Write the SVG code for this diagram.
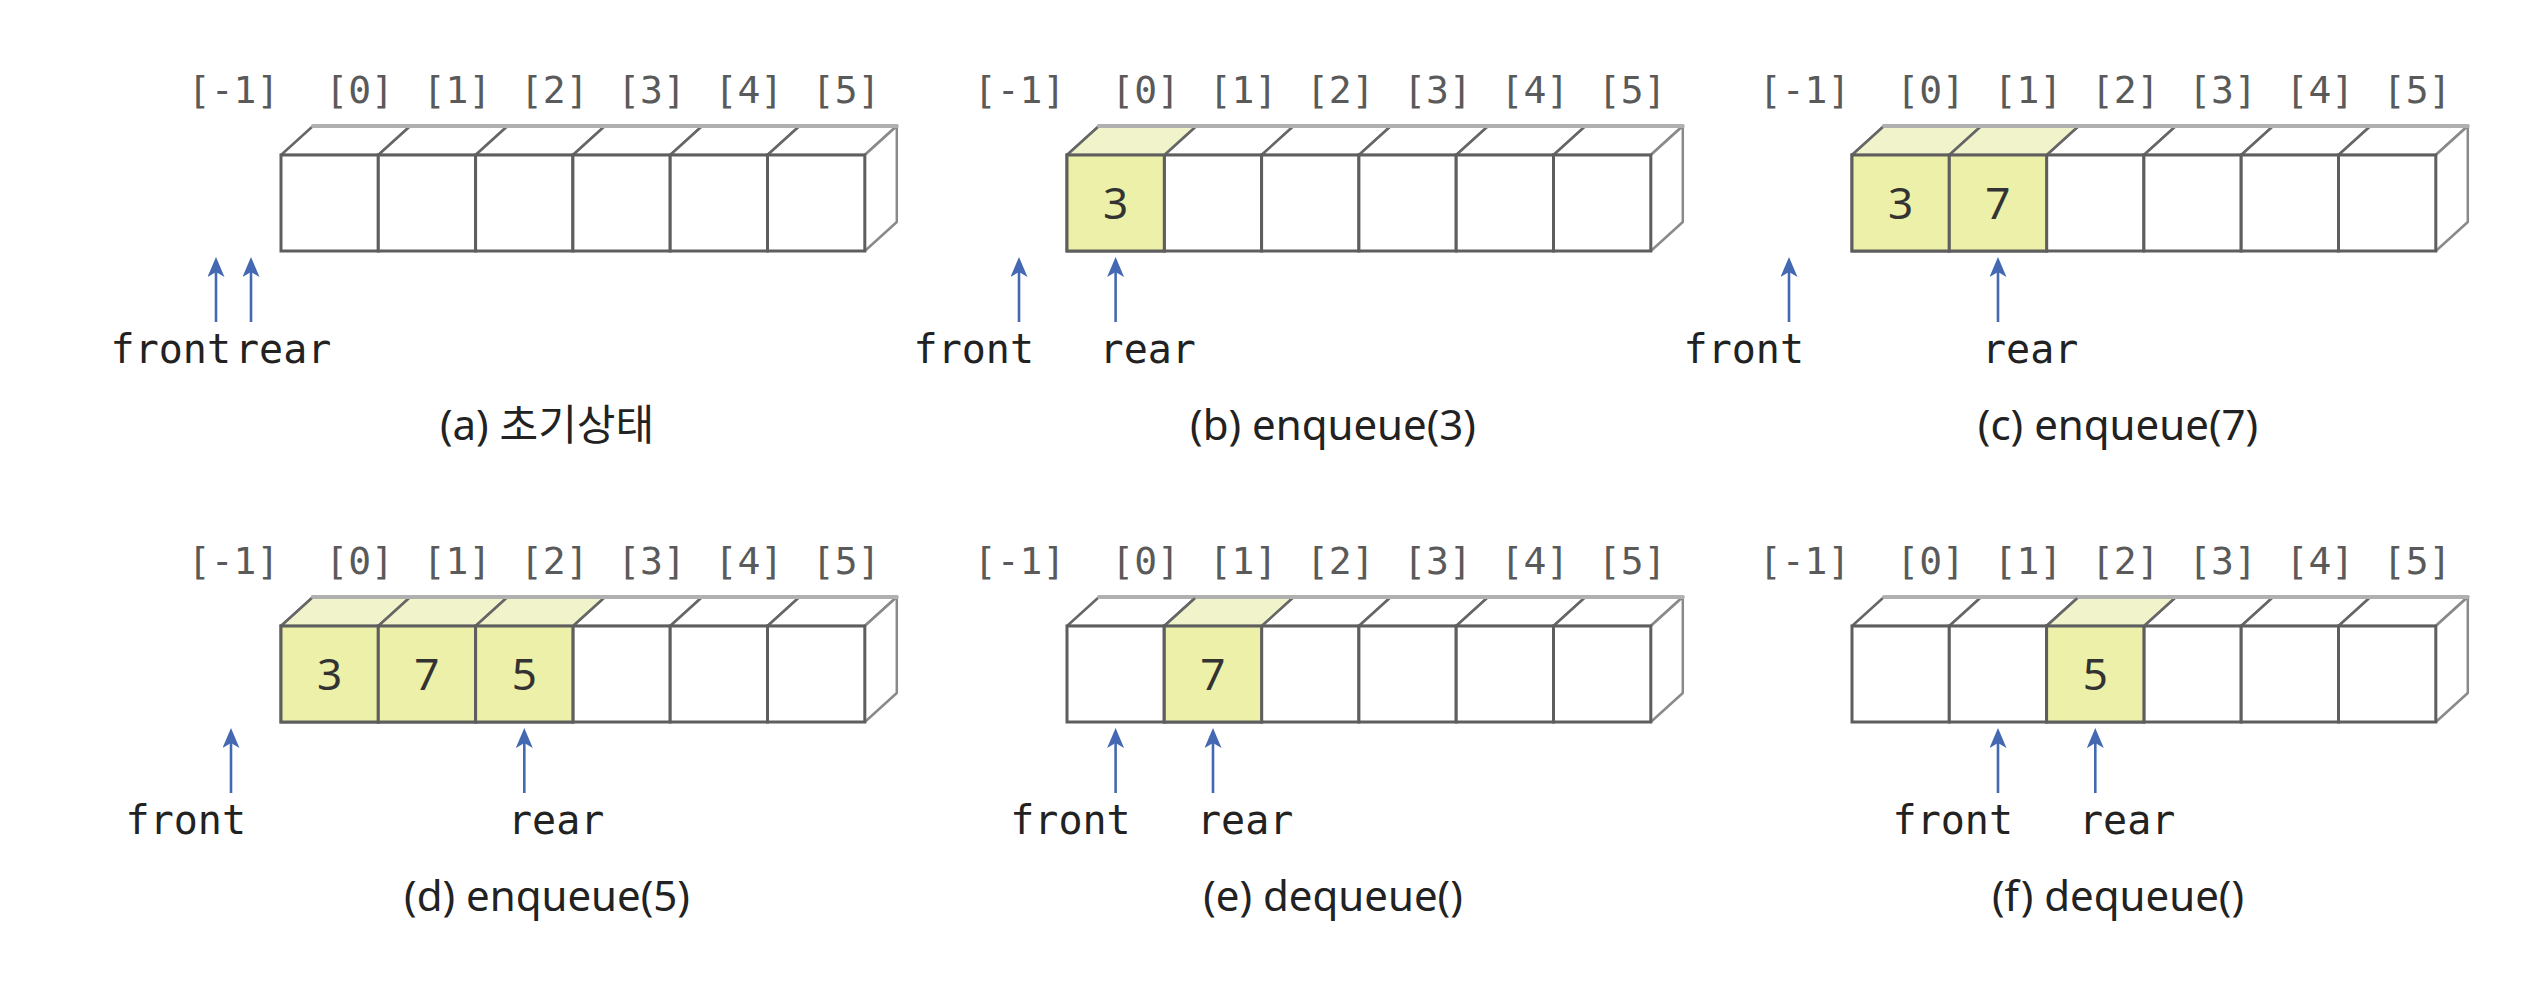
<svg xmlns="http://www.w3.org/2000/svg" xmlns:xlink="http://www.w3.org/1999/xlink" width="2525" height="1000" viewBox="0 0 2525 1000">
<style>
.cell{fill:#fff;stroke:#5e5e5e;stroke-width:3}
.top{fill:#fff;stroke:#666;stroke-width:2.5;stroke-linejoin:round}
.hl{fill:#edf0a8}
.hltop{fill:#f1f4ca}
.back{stroke:#b0b0b0;stroke-width:4;stroke-linecap:round}
.side{fill:#fff;stroke:#8a8a8a;stroke-width:2.5;stroke-linejoin:round}
.idx{font-family:"DejaVu Sans Mono",monospace;font-size:38px;fill:#5a5a5a;text-anchor:middle}
.ptr{font-family:"DejaVu Sans Mono",monospace;font-size:40px;fill:#222}
.val{font-family:"Noto Sans",sans-serif;font-size:44px;fill:#333;text-anchor:middle}
.cap{font-family:"Noto Sans","Noto Sans CJK KR",sans-serif;font-size:42px;fill:#222;text-anchor:middle}
.arr{stroke:#4469b2;stroke-width:2.6;fill:none;marker-end:url(#head)}
</style>
<defs>
<marker id="head" viewBox="0 0 20 17" refX="10" refY="8.5" markerWidth="20" markerHeight="17" markerUnits="userSpaceOnUse" orient="auto">
<path d="M0,0 L20,8.5 L0,17 L5,8.5 Z" fill="#4469b2"/>
</marker>
<g id="box">
<polygon class="top" points="0,0 32,-29 129.3,-29 97.3,0"/>
<polygon class="top" points="97.3,0 129.3,-29 226.6,-29 194.6,0"/>
<polygon class="top" points="194.6,0 226.6,-29 323.9,-29 291.9,0"/>
<polygon class="top" points="291.9,0 323.9,-29 421.2,-29 389.2,0"/>
<polygon class="top" points="389.2,0 421.2,-29 518.5,-29 486.5,0"/>
<polygon class="top" points="486.5,0 518.5,-29 615.8,-29 583.8,0"/>
<polygon class="side" points="583.8,0 615.8,-29 615.8,67 583.8,96"/>
<line class="back" x1="32" y1="-29" x2="615.8" y2="-29"/>
<rect class="cell" x="0" y="0" width="97.3" height="96"/>
<rect class="cell" x="97.3" y="0" width="97.3" height="96"/>
<rect class="cell" x="194.6" y="0" width="97.3" height="96"/>
<rect class="cell" x="291.9" y="0" width="97.3" height="96"/>
<rect class="cell" x="389.2" y="0" width="97.3" height="96"/>
<rect class="cell" x="486.5" y="0" width="97.3" height="96"/>
</g>
<g id="labels">
<text class="idx" x="-47.5" y="-52">[-1]</text>
<text class="idx" x="78.65" y="-52">[0]</text>
<text class="idx" x="175.95" y="-52">[1]</text>
<text class="idx" x="273.25" y="-52">[2]</text>
<text class="idx" x="370.55" y="-52">[3]</text>
<text class="idx" x="467.85" y="-52">[4]</text>
<text class="idx" x="565.15" y="-52">[5]</text>
</g>
</defs>

<g id="panel-a" transform="translate(281,155)">
<use xlink:href="#labels"/>
<use xlink:href="#box"/>
<text class="ptr" x="-50" y="208" text-anchor="end">front</text>
<text class="ptr" x="-46" y="208">rear</text>
<text class="cap" x="266" y="285">(a) 초기상태</text>
</g>

<g id="panel-b" transform="translate(1067,155)">
<use xlink:href="#labels"/>
<use xlink:href="#box"/>
<polygon class="top hltop" points="0,0 32,-29 129.3,-29 97.3,0"/>
<rect class="cell hl" x="0" y="0" width="97.3" height="96"/>
<line class="back" x1="32" y1="-29" x2="129.3" y2="-29"/>
<text class="val" x="48.65" y="64">3</text>
<text class="ptr" x="-33" y="208" text-anchor="end">front</text>
<text class="ptr" x="32.6" y="208">rear</text>
<text class="cap" x="266" y="285">(b) enqueue(3)</text>
</g>

<g id="panel-c" transform="translate(1852,155)">
<use xlink:href="#labels"/>
<use xlink:href="#box"/>
<polygon class="top hltop" points="0,0 32,-29 129.3,-29 97.3,0"/>
<polygon class="top hltop" points="97.3,0 129.3,-29 226.6,-29 194.6,0"/>
<rect class="cell hl" x="0" y="0" width="97.3" height="96"/>
<rect class="cell hl" x="97.3" y="0" width="97.3" height="96"/>
<line class="back" x1="32" y1="-29" x2="226.6" y2="-29"/>
<text class="val" x="48.65" y="64">3</text>
<text class="val" x="145.95" y="64">7</text>
<text class="ptr" x="-48" y="208" text-anchor="end">front</text>
<text class="ptr" x="130" y="208">rear</text>
<text class="cap" x="266" y="285">(c) enqueue(7)</text>
</g>

<g id="panel-d" transform="translate(281,626)">
<use xlink:href="#labels"/>
<use xlink:href="#box"/>
<polygon class="top hltop" points="0,0 32,-29 129.3,-29 97.3,0"/>
<polygon class="top hltop" points="97.3,0 129.3,-29 226.6,-29 194.6,0"/>
<polygon class="top hltop" points="194.6,0 226.6,-29 323.9,-29 291.9,0"/>
<rect class="cell hl" x="0" y="0" width="97.3" height="96"/>
<rect class="cell hl" x="97.3" y="0" width="97.3" height="96"/>
<rect class="cell hl" x="194.6" y="0" width="97.3" height="96"/>
<line class="back" x1="32" y1="-29" x2="323.9" y2="-29"/>
<text class="val" x="48.65" y="64">3</text>
<text class="val" x="145.95" y="64">7</text>
<text class="val" x="243.25" y="64">5</text>
<text class="ptr" x="-35" y="208" text-anchor="end">front</text>
<text class="ptr" x="227" y="208">rear</text>
<text class="cap" x="266" y="285">(d) enqueue(5)</text>
</g>

<g id="panel-e" transform="translate(1067,626)">
<use xlink:href="#labels"/>
<use xlink:href="#box"/>
<polygon class="top hltop" points="97.3,0 129.3,-29 226.6,-29 194.6,0"/>
<rect class="cell hl" x="97.3" y="0" width="97.3" height="96"/>
<line class="back" x1="129.3" y1="-29" x2="226.6" y2="-29"/>
<text class="val" x="145.95" y="64">7</text>
<text class="ptr" x="63.65" y="208" text-anchor="end">front</text>
<text class="ptr" x="130" y="208">rear</text>
<text class="cap" x="266" y="285">(e) dequeue()</text>
</g>

<g id="panel-f" transform="translate(1852,626)">
<use xlink:href="#labels"/>
<use xlink:href="#box"/>
<polygon class="top hltop" points="194.6,0 226.6,-29 323.9,-29 291.9,0"/>
<rect class="cell hl" x="194.6" y="0" width="97.3" height="96"/>
<line class="back" x1="226.6" y1="-29" x2="323.9" y2="-29"/>
<text class="val" x="243.25" y="64">5</text>
<text class="ptr" x="161" y="208" text-anchor="end">front</text>
<text class="ptr" x="227" y="208">rear</text>
<text class="cap" x="266" y="285">(f) dequeue()</text>
</g>

<g id="connectors">
<line class="arr" x1="216" y1="322" x2="216" y2="267"/>
<line class="arr" x1="251" y1="322" x2="251" y2="267"/>
<line class="arr" x1="1019" y1="322" x2="1019" y2="267"/>
<line class="arr" x1="1115.6" y1="322" x2="1115.6" y2="267"/>
<line class="arr" x1="1789" y1="322" x2="1789" y2="267"/>
<line class="arr" x1="1998" y1="322" x2="1998" y2="267"/>
<line class="arr" x1="231" y1="793" x2="231" y2="738"/>
<line class="arr" x1="524.3" y1="793" x2="524.3" y2="738"/>
<line class="arr" x1="1115.6" y1="793" x2="1115.6" y2="738"/>
<line class="arr" x1="1213" y1="793" x2="1213" y2="738"/>
<line class="arr" x1="1998" y1="793" x2="1998" y2="738"/>
<line class="arr" x1="2095.3" y1="793" x2="2095.3" y2="738"/>
</g>
</svg>
